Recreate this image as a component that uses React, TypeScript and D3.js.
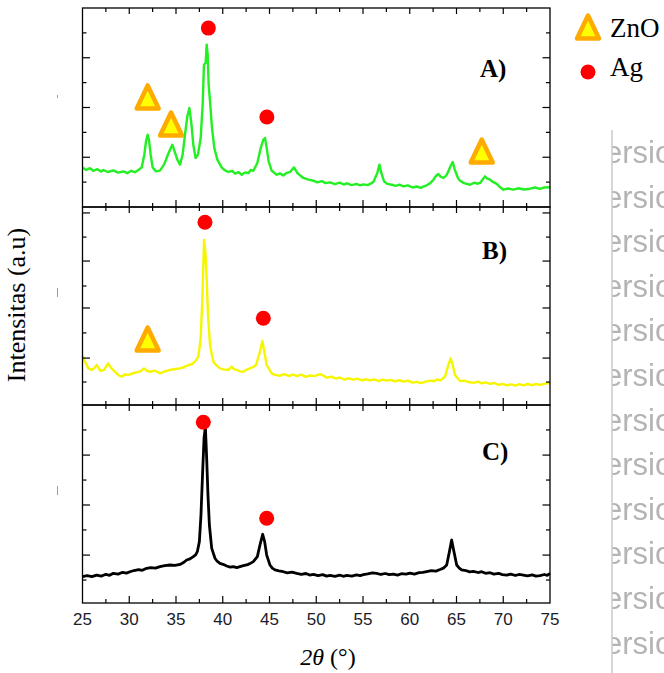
import React from 'react';
import * as d3 from 'd3';

// ---------- data ----------
const xMajorTicks = [25, 30, 35, 40, 45, 50, 55, 60, 65, 70, 75];
const xMinorTicks = [27.5, 32.5, 37.5, 42.5, 47.5, 52.5, 57.5, 62.5, 67.5, 72.5];

// [2theta, intensity (a.u.)]
const seriesA: [number, number][] = [
  [25.0, 19.9], [25.4, 18.6], [25.8, 19.5], [26.16, 18.2], [26.6, 19.0], [27.0, 17.8], [27.23, 18.6], [27.7, 17.6], [28.3, 18.4], [28.8, 17.3], [29.37, 17.9], [29.8, 17.0], [30.2, 18.2], [30.6, 17.5], [30.97, 18.6],
  [31.33, 19.9], [31.61, 26.3], [31.79, 33.0], [31.97, 36.3], [32.11, 33.7], [32.29, 26.3], [32.5, 19.9], [32.86, 17.9], [33.28, 18.3], [33.72, 21.3], [34.07, 25.5], [34.36, 28.8], [34.61, 31.3], [34.86, 27.8], [35.14, 23.8], [35.43, 21.3], [35.71, 26.3], [35.96, 36.3], [36.21, 45.6], [36.43, 49.7], [36.64, 42.2], [36.85, 31.3], [37.1, 24.6], [37.35, 26.3], [37.64, 34.7], [37.85, 51.4], [37.99, 71.5], [38.17, 72.4], [38.28, 81.6], [38.39, 76.5], [38.49, 61.5], [38.64, 53.1], [38.85, 39.7], [39.1, 29.6], [39.42, 23.8], [39.88, 19.9],
  [40.2, 18.5], [40.6, 17.6], [41.0, 18.2], [41.31, 16.8], [41.7, 17.5], [42.02, 16.2], [42.4, 17.4], [42.74, 17.0], [43.0, 18.6], [43.27, 18.2], [43.7, 22.1], [44.06, 29.6], [44.34, 33.8], [44.52, 34.7], [44.7, 29.6], [44.91, 22.9], [45.23, 18.3], [45.77, 16.2], [46.1, 16.9], [46.48, 15.8], [46.8, 17.0], [47.2, 17.6], [47.62, 19.9], [47.98, 17.1], [48.3, 15.8], [48.62, 14.6], [49.1, 13.9], [49.69, 13.2], [50.1, 12.4], [50.6, 13.0], [51.0, 12.0], [51.47, 12.4], [52.0, 11.5], [52.5, 12.2], [53.0, 11.3], [53.26, 11.9], [53.8, 11.0], [54.3, 11.6], [54.7, 10.9], [55.04, 11.4], [55.5, 11.0], [55.9, 12.0], [56.11, 12.6],
  [56.53, 17.1], [56.75, 21.3], [56.96, 17.1], [57.25, 12.9], [57.6, 11.6], [58.07, 11.2], [58.5, 10.6], [58.9, 11.2], [59.32, 10.4], [59.8, 10.9], [60.3, 9.8], [60.74, 10.3], [61.2, 9.6], [61.5, 10.4], [61.81, 10.9], [62.2, 12.0], [62.53, 13.7], [62.8, 15.6], [63.06, 16.6], [63.3, 15.2], [63.6, 14.6], [63.9, 15.8], [64.13, 17.9], [64.35, 20.5], [64.59, 22.6], [64.8, 19.0], [64.95, 17.1], [65.15, 14.6], [65.38, 13.2], [65.8, 12.0], [66.1, 11.6], [66.45, 11.2], [66.9, 12.2], [67.2, 11.7], [67.52, 12.1], [67.8, 13.8], [68.05, 15.4], [68.3, 14.2], [68.59, 13.7], [68.9, 12.6], [69.3, 11.6], [69.6, 10.2], [70.01, 8.7], [70.5, 9.3], [71.08, 8.7], [71.6, 9.4], [72.2, 8.8], [72.87, 9.2], [73.4, 9.8], [73.9, 9.1], [74.4, 9.8], [75.0, 9.9],
];

const seriesB: [number, number][] = [
  [25.0, 24.9], [25.27, 21.9], [25.62, 18.5], [25.98, 17.7], [26.25, 18.6], [26.52, 20.2], [26.75, 18.4], [26.94, 17.2], [27.3, 17.7], [27.55, 19.6], [27.76, 21.0], [27.95, 19.4], [28.12, 18.5], [28.4, 17.1], [28.65, 16.0], [28.9, 14.9], [29.19, 14.3], [29.5, 15.4], [29.9, 15.2], [30.3, 15.9], [30.79, 16.5], [31.2, 17.0], [31.58, 18.5], [31.9, 17.3], [32.22, 16.8], [32.7, 17.4], [33.29, 16.0], [33.8, 17.0], [34.36, 17.7], [34.9, 18.2], [35.43, 18.5], [35.9, 19.2], [36.32, 20.2], [36.7, 20.6], [37.03, 21.9],
  [37.39, 24.4], [37.64, 33.7], [37.82, 53.9], [38.0, 83.3], [38.14, 77.4], [38.28, 64.0], [38.42, 45.5], [38.64, 30.3], [38.99, 21.9], [39.3, 20.1], [39.7, 18.5], [40.1, 18.0], [40.6, 17.7], [40.95, 19.4], [41.2, 18.1], [41.49, 17.7], [41.85, 17.0], [42.2, 16.8], [42.6, 17.9], [42.92, 18.5], [43.2, 19.1], [43.56, 20.2], [43.98, 26.9], [44.23, 32.3], [44.45, 26.9], [44.7, 20.2], [45.23, 16.0],
  [45.6, 15.2], [46.12, 14.8], [46.6, 15.6], [47.1, 14.6], [47.5, 15.4], [47.91, 14.6], [48.4, 15.3], [48.9, 14.2], [49.33, 14.9], [49.8, 14.6], [50.4, 15.6], [50.8, 14.8], [51.12, 13.8], [51.6, 14.3], [52.1, 13.3], [52.54, 13.9], [53.0, 12.8], [53.5, 13.5], [53.97, 12.8], [54.4, 13.3], [54.9, 12.4], [55.3, 13.0], [55.75, 12.4], [56.2, 12.9], [56.7, 12.1], [57.1, 12.8], [57.54, 12.3], [58.0, 12.7], [58.4, 11.9], [58.9, 12.5], [59.32, 11.8], [59.8, 12.3], [60.3, 11.3], [60.74, 11.7], [61.2, 11.0], [61.7, 11.8], [62.17, 12.3], [62.6, 12.0], [62.9, 12.9], [63.24, 12.4], [63.5, 13.3], [63.77, 14.3],
  [64.13, 20.2], [64.38, 23.6], [64.59, 20.2], [64.84, 15.2], [65.38, 12.1], [65.8, 12.3], [66.3, 11.6], [66.81, 11.2], [67.3, 11.8], [67.7, 10.9], [68.1, 11.4], [68.59, 10.7], [69.0, 11.2], [69.5, 10.2], [69.9, 10.7], [70.37, 9.9], [70.8, 10.4], [71.3, 9.8], [71.7, 10.5], [72.15, 9.9], [72.6, 10.6], [73.1, 10.0], [73.5, 10.6], [73.93, 10.2], [74.5, 10.8], [75.0, 11.2],
];

const seriesC: [number, number][] = [
  [25.0, 13.3], [25.5, 13.8], [26.0, 13.3], [26.52, 14.1], [27.0, 13.6], [27.5, 14.5], [27.9, 14.0], [28.3, 15.0], [28.8, 14.6], [29.3, 15.5], [29.7, 15.1], [30.08, 15.8], [30.5, 16.4], [31.0, 16.9], [31.4, 16.5], [31.86, 17.5], [32.3, 17.9], [32.8, 17.6], [33.29, 18.4], [33.8, 18.9], [34.36, 19.2], [34.9, 19.0], [35.43, 19.5], [35.8, 20.4], [36.14, 21.7], [36.5, 22.3], [36.85, 23.4], [37.1, 24.3], [37.28, 25.9],
  [37.5, 31.0], [37.67, 44.4], [37.85, 66.3], [38.0, 83.2], [38.14, 89.1], [38.28, 73.1], [38.42, 54.5], [38.57, 39.4], [38.82, 27.6], [39.17, 22.6], [39.4, 21.1], [39.7, 20.0], [40.1, 19.4], [40.42, 18.7], [40.8, 18.1], [41.13, 18.4], [41.5, 17.9], [41.84, 18.4], [42.2, 18.9], [42.56, 19.2], [42.9, 19.9], [43.27, 20.9], [43.7, 23.4], [43.98, 29.3], [44.27, 34.7], [44.48, 31.0], [44.7, 24.2], [45.05, 19.2],
  [45.3, 17.6], [45.59, 16.7], [46.0, 16.2], [46.48, 15.8], [46.9, 15.2], [47.4, 15.6], [47.91, 15.0], [48.4, 14.5], [48.9, 14.9], [49.3, 14.1], [49.69, 14.5], [50.2, 13.8], [50.7, 14.3], [51.1, 13.6], [51.47, 14.0], [52.0, 13.5], [52.5, 14.1], [52.9, 13.5], [53.26, 13.9], [53.8, 13.6], [54.3, 14.2], [54.7, 13.8], [55.04, 14.3], [55.5, 14.7], [56.0, 15.2], [56.46, 15.0], [56.9, 14.4], [57.4, 14.9], [57.8, 14.3], [58.25, 14.6], [58.7, 14.1], [59.1, 14.8], [59.6, 14.6], [60.03, 15.1], [60.5, 14.6], [61.0, 15.3], [61.4, 15.5], [61.81, 15.9], [62.3, 16.3], [62.8, 16.1], [63.24, 16.9], [63.6, 17.6], [63.95, 19.2],
  [64.24, 25.9], [64.48, 31.8], [64.73, 25.9], [65.02, 19.2], [65.3, 17.6], [65.55, 16.7], [66.0, 16.4], [66.4, 15.7], [66.81, 16.0], [67.3, 15.4], [67.7, 15.8], [68.1, 15.0], [68.59, 15.3], [69.0, 14.6], [69.5, 15.0], [69.9, 14.3], [70.37, 14.1], [70.8, 14.6], [71.3, 13.9], [71.7, 14.4], [72.15, 14.1], [72.6, 13.7], [73.1, 14.2], [73.5, 13.6], [73.93, 13.8], [74.4, 14.4], [74.7, 14.0], [75.0, 15.0],
];

// marker positions [2theta, intensity]
const agMarkersA = [[38.46, 89.9], [44.72, 45.2]];
const znoMarkersA = [[31.97, 54.8], [34.47, 41.2], [67.7, 27.6]];
const agMarkersB = [[38.1, 92.3], [44.34, 43.8]];
const znoMarkersB = [[31.97, 32.8]];
const agMarkersC = [[37.92, 91.3], [44.7, 42.8]];
const znoMarkersC: number[][] = [];

const yTicksA = [12.5, 25, 37.5, 50, 62.5, 75, 87.5];
const yTicksB = [11.6, 23.7, 36.4, 49, 60.1, 72.7, 84.8, 97];
const yTicksC = [11.6, 24.2, 36.9, 49.5, 62.1, 74.7, 87.4];

const panelLabels = ['A)', 'B)', 'C)'];
const legendLabels = ['ZnO', 'Ag'];
const xTitle = '2θ';
const yTitle = 'Intensitas (a.u)';
const watermarkText = 'ersio';

// ---------- layout ----------
const W = 664, H = 673;
const left = 82.5, right = 550;
const panels = [
  { top: 8, bottom: 207, data: seriesA, color: '#22F022', sw: 2.4, ag: agMarkersA, zno: znoMarkersA, yt: yTicksA, label: panelLabels[0], lx: 480, ly: 77, ls: 25 },
  { top: 207, bottom: 405, data: seriesB, color: '#F6F600', sw: 2.4, ag: agMarkersB, zno: znoMarkersB, yt: yTicksB, label: panelLabels[1], lx: 482, ly: 259, ls: 25 },
  { top: 405, bottom: 603, data: seriesC, color: '#000000', sw: 2.8, ag: agMarkersC, zno: znoMarkersC, yt: yTicksC, label: panelLabels[2], lx: 482, ly: 460, ls: 25 },
];

const x = d3.scaleLinear().domain([25, 75]).range([left, right]);

const triPath = 'M0,-12.5 L11,10.5 L-11,10.5 Z';
const serif = "'Liberation Serif', 'Times New Roman', serif";
const sans = "'Liberation Sans', Arial, sans-serif";

function Triangle({ cx, cy }: { cx: number; cy: number }) {
  return (
    <path d={triPath} transform={`translate(${cx},${cy})`} fill="#FFFF00" stroke="#FFAA00" strokeWidth={4.5} strokeLinejoin="round" />
  );
}

export default function App() {
  const rows = d3.range(12).map((i) => 163 + i * 44.6);
  return (
    <svg width={W} height={H} style={{ position: 'absolute', left: 0, top: 0, background: '#fff' }}>
      <defs>
        <clipPath id="wm">
          <rect x={612.5} y={0} width={60} height={H} />
        </clipPath>
        <filter id="blur">
          <feGaussianBlur stdDeviation="0.5" />
        </filter>
      </defs>
      <rect x={0} y={0} width={W} height={H} fill="#fff" />

      {/* watermark */}
      <line x1={612} x2={612} y1={130} y2={H} stroke="#bdbdbd" strokeWidth={1.2} />
      <g clipPath="url(#wm)" filter="url(#blur)">
        {rows.map((yy, i) => (
          <text key={i} x={605} y={yy} fontFamily={sans} fontSize={31} fill="#b4b4b4">
            {watermarkText}
          </text>
        ))}
      </g>

      {/* small cyan artifacts */}
      <line x1={57.5} x2={57.5} y1={95} y2={98} stroke="#5aaee0" strokeWidth={1} />
      <line x1={57.5} x2={57.5} y1={288} y2={297} stroke="#5aaee0" strokeWidth={1} />
      <line x1={57.5} x2={57.5} y1={486} y2={495} stroke="#5aaee0" strokeWidth={1} />

      {panels.map((p, pi) => {
        const y = d3.scaleLinear().domain([0, 100]).range([p.bottom, p.top]);
        const line = d3.line<[number, number]>().x((d) => x(d[0])).y((d) => y(d[1]));
        return (
          <g key={pi}>
            <path d={line(p.data) || ''} fill="none" stroke={p.color} strokeWidth={p.sw} strokeLinejoin="round" />
            {xMajorTicks.slice(1, -1).map((t) => (
              <g key={'M' + t}>
                <line x1={x(t)} x2={x(t)} y1={p.bottom} y2={p.bottom - 7} stroke="#000" strokeWidth={1.2} />
                <line x1={x(t)} x2={x(t)} y1={p.top} y2={p.top + 6} stroke="#000" strokeWidth={1.2} />
              </g>
            ))}
            {xMinorTicks.map((t) => (
              <g key={'m' + t}>
                <line x1={x(t)} x2={x(t)} y1={p.bottom} y2={p.bottom - 4} stroke="#000" strokeWidth={1.2} />
                <line x1={x(t)} x2={x(t)} y1={p.top} y2={p.top + 4} stroke="#000" strokeWidth={1.2} />
              </g>
            ))}
            {p.yt.map((v, i) => {
              const len = i % 2 === 1 ? 7.5 : 4;
              return (
                <g key={'y' + i}>
                  <line x1={left} x2={left + len} y1={y(v)} y2={y(v)} stroke="#000" strokeWidth={1.2} />
                  <line x1={right} x2={right - len} y1={y(v)} y2={y(v)} stroke="#000" strokeWidth={1.2} />
                </g>
              );
            })}
            <rect x={left} y={p.top} width={right - left} height={p.bottom - p.top} fill="none" stroke="#000" strokeWidth={1.3} />
            {p.zno.map((m, i) => (
              <Triangle key={'z' + i} cx={x(m[0])} cy={y(m[1])} />
            ))}
            {p.ag.map((m, i) => (
              <circle key={'a' + i} cx={x(m[0])} cy={y(m[1])} r={7.5} fill="#FF0000" />
            ))}
            <text x={p.lx} y={p.ly} fontFamily={serif} fontWeight="bold" fontSize={p.ls} fill="#000">
              {p.label}
            </text>
          </g>
        );
      })}

      {xMajorTicks.map((t) => (
        <text key={t} x={x(t)} y={625} textAnchor="middle" fontFamily={sans} fontSize={17} fill="#1c1c2a">
          {t}
        </text>
      ))}

      <text x={328} y={665} textAnchor="middle" fontFamily={serif} fontSize={24} fill="#000">
        <tspan fontStyle="italic">{xTitle}</tspan>
        <tspan> (°)</tspan>
      </text>
      <text transform="translate(25,305) rotate(-90)" textAnchor="middle" fontFamily={serif} fontSize={26} fill="#000">
        {yTitle}
      </text>

      <Triangle cx={588} cy={28} />
      <text x={610} y={37} fontFamily={serif} fontSize={27} fill="#000">
        {legendLabels[0]}
      </text>
      <circle cx={588} cy={72} r={7.5} fill="#FF0000" />
      <text x={610} y={76} fontFamily={serif} fontSize={27} fill="#000">
        {legendLabels[1]}
      </text>
    </svg>
  );
}
